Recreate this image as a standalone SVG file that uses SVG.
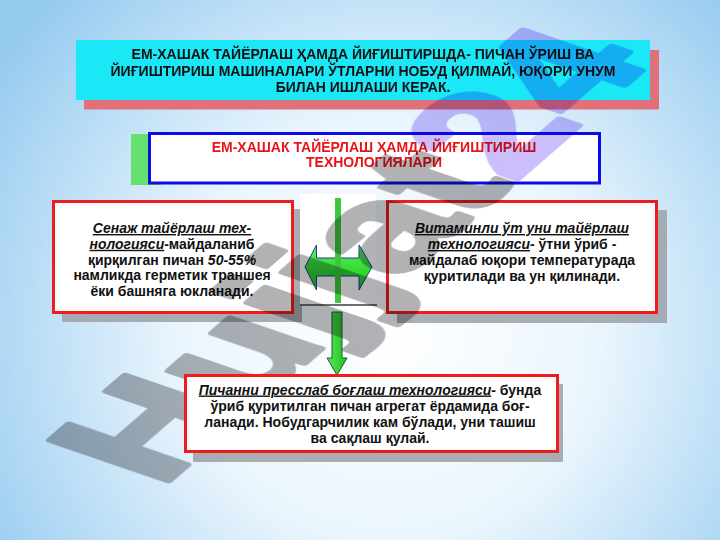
<svg xmlns="http://www.w3.org/2000/svg" width="720" height="540" viewBox="0 0 720 540">
  <defs>
    <radialGradient id="bg" cx="390" cy="330" r="470" gradientUnits="userSpaceOnUse">
      <stop offset="0" stop-color="#ffffff"/>
      <stop offset="0.45" stop-color="#eaf5fd"/>
      <stop offset="1" stop-color="#96cbf0"/>
    </radialGradient>
    <linearGradient id="gh" x1="0" y1="0" x2="0" y2="1">
      <stop offset="0" stop-color="#5af25a"/>
      <stop offset="1" stop-color="#16c816"/>
    </linearGradient>
    <linearGradient id="gv" x1="0" y1="0" x2="1" y2="0">
      <stop offset="0" stop-color="#5ae85a"/>
      <stop offset="1" stop-color="#1ec01e"/>
    </linearGradient>
    <style>
      .t{font-family:"Liberation Sans",Arial,sans-serif;font-weight:bold;font-size:14px;text-anchor:middle;fill:#111}
      .i{font-style:italic}
      .u{text-decoration:underline}
      .red{fill:#e8141c}
      .box{fill:#ffffff;stroke:#ee1c1c;stroke-width:3}
      .sh{fill:#9ca0a6;opacity:0.85}
      .wm{font-family:"Liberation Sans",Arial,sans-serif;font-weight:bold;font-size:100px;stroke-width:4;stroke-linejoin:round}
    </style>
  </defs>

  <rect x="0" y="0" width="720" height="540" fill="url(#bg)"/>

  <g id="banner">
    <rect x="84" y="50" width="575" height="59.5" fill="#e0707a"/>
    <rect x="76" y="40" width="574" height="60" fill="#1ae8f6"/>
    <text class="t" x="363" y="59">ЕМ-ХАШАК ТАЙЁРЛАШ ҲАМДА ЙИҒИШТИРШДА- ПИЧАН ЎРИШ ВА</text>
    <text class="t" x="363" y="75.5">ЙИҒИШТИРИШ МАШИНАЛАРИ ЎТЛАРНИ НОБУД ҚИЛМАЙ, ЮҚОРИ УНУМ</text>
    <text class="t" x="363" y="92">БИЛАН ИШЛАШИ КЕРАК.</text>
  </g>

  <g id="title">
    <rect x="131" y="134" width="30" height="51" fill="#64e16e"/>
    <rect x="149.5" y="133.5" width="450" height="49.5" fill="#ffffff" stroke="#0c0ce6" stroke-width="3"/>
    <text class="t red" x="374" y="151.5">ЕМ-ХАШАК ТАЙЁРЛАШ ҲАМДА ЙИҒИШТИРИШ</text>
    <text class="t red" x="374" y="167">ТЕХНОЛОГИЯЛАРИ</text>
  </g>

  <g id="senazh">
    <rect class="sh" x="62" y="209" width="240" height="113"/>
    <rect class="box" x="53.5" y="201.5" width="239" height="111"/>
    <text class="t" x="172" y="233"><tspan class="i u">Сенаж тайёрлаш тех-</tspan></text>
    <text class="t" x="172" y="248.8"><tspan class="i u">нологияси</tspan>-майдаланиб</text>
    <text class="t" x="172" y="264.5">қирқилган пичан <tspan class="i">50-55%</tspan></text>
    <text class="t" x="172" y="280.3">намликда герметик траншея</text>
    <text class="t" x="172" y="296">ёки башняга юкланади.</text>
  </g>

  <g id="vitamin">
    <rect class="sh" x="397" y="210" width="270" height="113"/>
    <rect class="box" x="387.5" y="201.5" width="269" height="111"/>
    <text class="t" x="522" y="233"><tspan class="i u">Витаминли ўт уни тайёрлаш</tspan></text>
    <text class="t" x="522" y="249"><tspan class="i u">технологияси</tspan><tspan class="i">-</tspan> ўтни ўриб -</text>
    <text class="t" x="522" y="265.3">майдалаб юқори температурада</text>
    <text class="t" x="522" y="281.3">қуритилади ва ун қилинади.</text>
  </g>

  <g id="connectors">
    <rect x="300" y="194" width="76" height="111" fill="#ffffff"/>
    <line x1="300" y1="305" x2="377" y2="305" stroke="#6e6e6e" stroke-width="2"/>
    <polygon points="305,267 316.5,245 316.5,258 359,258 359,245 372,267 359,290 359,276 316.5,276 316.5,290" fill="url(#gh)" stroke="#1c3a9a" stroke-width="1"/>
    <line x1="338" y1="198" x2="338" y2="303" stroke="#3cc83c" stroke-width="6"/>
    <polygon points="332,312 342,312 342,358 347,358 337,375 327,358 332,358" fill="url(#gv)" stroke="#1f5a2a" stroke-width="1"/>
  </g>

  <g id="watermark" style="mix-blend-mode:multiply">
    <text class="wm" transform="matrix(1.27 -1.10 1.72 0.59 160 488)"><tspan fill="#b2b2b4" stroke="#b2b2b4">Hujjat</tspan><tspan fill="#cbbefa" stroke="#cbbefa">24</tspan></text>
  </g>

  <g id="pressing">
    <rect class="sh" x="193" y="384" width="370" height="78"/>
    <rect class="box" x="185.5" y="375.5" width="372" height="76"/>
    <text class="t" x="370" y="394.5"><tspan class="i u">Пичанни пресслаб боғлаш технологияси</tspan><tspan class="i">-</tspan> бунда</text>
    <text class="t" x="370" y="411">ўриб қуритилган пичан агрегат ёрдамида боғ-</text>
    <text class="t" x="370" y="427">ланади. Нобудгарчилик кам бўлади, уни ташиш</text>
    <text class="t" x="370" y="443">ва сақлаш қулай.</text>
  </g>
</svg>
